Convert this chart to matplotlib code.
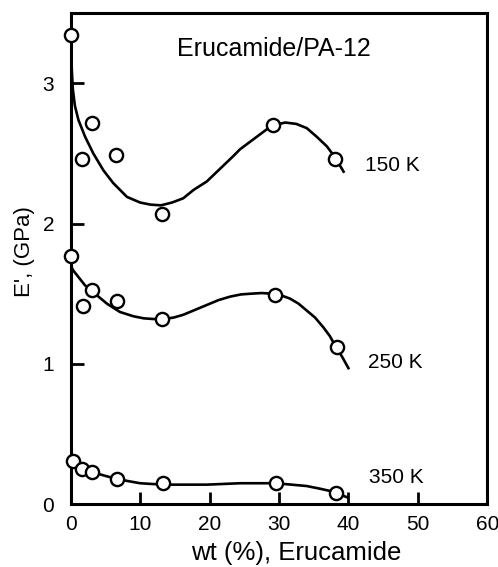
import matplotlib
matplotlib.use("Agg")
import matplotlib.pyplot as plt

plt.rcParams['font.family'] = ['Liberation Sans', 'DejaVu Sans']

# measured points (wt %, E' GPa)
x_150 = [0.0, 1.6, 3.0, 6.5, 13.1, 29.1, 38.1]
y_150 = [3.34, 2.46, 2.72, 2.49, 2.07, 2.70, 2.46]
x_250 = [0.0, 1.7, 3.0, 6.6, 13.2, 29.4, 38.3]
y_250 = [1.77, 1.41, 1.53, 1.45, 1.32, 1.49, 1.12]
x_350 = [0.3, 1.6, 3.1, 6.7, 13.3, 29.6, 38.2]
y_350 = [0.31, 0.25, 0.23, 0.18, 0.15, 0.15, 0.08]

# fitted curves
cx_150 = [0.05, 0.15, 0.3, 0.6, 1.1, 2.06, 3.25, 4.7, 6.1, 8.1, 10.0, 11.5,
          13.0, 14.6, 16.2, 17.7, 19.6, 21.5, 23.4, 24.4, 26.3, 28.2, 29.2,
          30.9, 32.5, 34.0, 35.4, 36.9, 38.1, 39.3]
cy_150 = [3.28, 3.10, 2.96, 2.84, 2.74, 2.62, 2.50, 2.38, 2.29, 2.19, 2.15, 2.135,
          2.13, 2.15, 2.18, 2.24, 2.30, 2.39, 2.48, 2.53, 2.60, 2.67, 2.70,
          2.72, 2.71, 2.68, 2.62, 2.55, 2.47, 2.37]
cx_250 = [0.05, 0.3, 1.1, 2.06, 3.75, 5.2, 7.1, 9.0, 10.5, 11.9, 13.3, 14.8,
          16.2, 17.9, 19.6, 21.3, 23.0, 24.5, 25.8, 27.5, 29.2, 30.5, 31.6,
          32.8, 34.0, 35.2, 36.4, 37.3, 38.1, 39.1, 40.0]
cy_250 = [1.70, 1.67, 1.62, 1.56, 1.49, 1.43, 1.37, 1.34, 1.325, 1.32, 1.32, 1.33,
          1.35, 1.385, 1.42, 1.455, 1.48, 1.495, 1.50, 1.505, 1.50, 1.485, 1.465,
          1.43, 1.38, 1.33, 1.26, 1.20, 1.13, 1.05, 0.97]
cx_350 = [0.0, 0.8, 1.6, 3.05, 4.8, 6.65, 8.3, 10.0, 11.6, 13.3, 16.5, 19.6,
          22.0, 24.4, 27.0, 29.5, 31.8, 34.0, 36.0, 37.8, 39.8]
cy_350 = [0.31, 0.27, 0.25, 0.23, 0.205, 0.18, 0.165, 0.15, 0.145, 0.14, 0.14, 0.14,
          0.145, 0.15, 0.15, 0.15, 0.14, 0.13, 0.11, 0.09, 0.05]

fig = plt.figure(figsize=(4.98, 5.67), dpi=100)
ax = fig.add_axes([0.142, 0.1106, 0.8365, 0.8664])

for cx, cy in [(cx_150, cy_150), (cx_250, cy_250), (cx_350, cy_350)]:
    ax.plot(cx, cy, color="black", lw=1.9, zorder=2)
for x, y in [(x_150, y_150), (x_250, y_250), (x_350, y_350)]:
    ax.plot(x, y, ls="none", marker="o", ms=9.5, mfc="white", mec="black",
            mew=1.7, zorder=3, clip_on=False)

ax.text(29.2, 3.195, "Erucamide/PA-12", fontsize=18, ha="center", va="baseline")
ax.text(42.4, 2.376, "150 K", fontsize=15, va="baseline")
ax.text(42.86, 0.969, "250 K", fontsize=15, va="baseline")
ax.text(43.0, 0.15, "350 K", fontsize=15, va="baseline")

ax.set_xlim(0, 60)
ax.set_ylim(0, 3.5)
ax.set_xticks([0, 10, 20, 30, 40, 50, 60])
ax.set_yticks([0, 1, 2, 3])
ax.tick_params(direction="in", length=9, width=2, labelsize=15)
ax.tick_params(axis="x", pad=8)
ax.tick_params(axis="y", pad=12)
for s in ax.spines.values():
    s.set_linewidth(2.2)

ax.set_xlabel("wt (%), Erucamide", fontsize=18.5, labelpad=5)
ax.xaxis.label.set_x(0.541)
ax.set_ylabel("E', (GPa)", fontsize=16, labelpad=5)
ax.yaxis.label.set_y(0.514)

plt.savefig("out.png", dpi=100)
